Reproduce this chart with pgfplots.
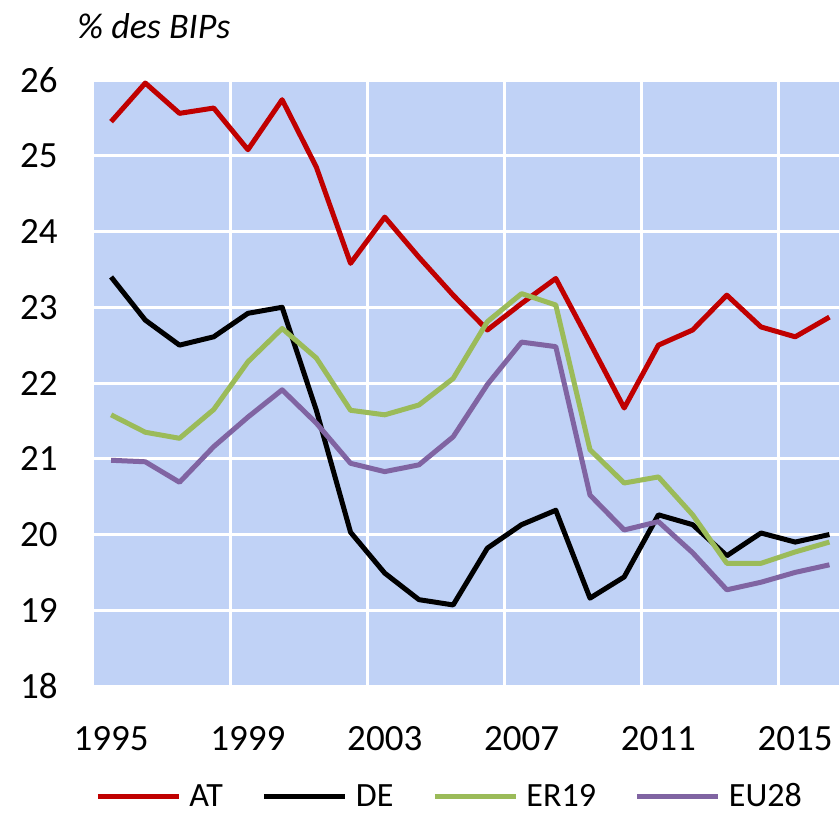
\documentclass[border=0pt]{standalone}
\usepackage{pgfplots}
\pgfplotsset{compat=1.18}
\usepackage{fontspec}
\setmainfont{Carlito}
\definecolor{bgblue}{RGB}{192,210,246}
\definecolor{atred}{RGB}{192,0,0}
\definecolor{ergreen}{RGB}{155,187,89}
\definecolor{eupurple}{RGB}{128,100,162}
\begin{document}
\begin{tikzpicture}
\begin{axis}[
  at={(0,0)}, anchor=south west,
  scale only axis, width=372.5pt, height=303pt,
  xmin=1994.5, xmax=2016.28, ymin=18, ymax=26,
  xtick={1995,1999,2003,2007,2011,2015},
  minor xtick={1998.5,2002.5,2006.5,2010.5,2014.5},
  ytick={18,19,20,21,22,23,24,25,26},
  xminorgrids=true, ymajorgrids=true, xmajorgrids=false,
  grid style={white, line width=1.5pt},
  minor grid style={white, line width=1.5pt},
  major tick length=0pt, minor tick length=0pt,
  axis line style={draw=none},
  axis background/.style={fill=bgblue},
  /pgf/number format/assume math mode=true,
  /pgf/number format/1000 sep={},
  tick label style={font=\fontsize{18.5}{20}\selectfont},
  yticklabel style={anchor=east, inner sep=0pt, xshift=-18pt},
  xticklabel style={anchor=north, inner sep=0pt, yshift=-20pt},
  legend columns=4,
  legend style={at={(0.476,-0.1826)}, anchor=center, draw=none, fill=none,
    font=\fontsize{17}{18}\selectfont,
    nodes={inner sep=0pt},
    /tikz/every odd column/.append style={column sep=4pt},
    /tikz/every even column/.append style={column sep=19.5pt}},
  legend image code/.code={\draw[#1] (0pt,0pt) -- (40.5pt,0pt);},
  every axis plot/.append style={line width=2.5pt, line join=round},
]
\addplot[atred] coordinates {
(1995,25.45) (1996,25.96) (1997,25.56) (1998,25.63) (1999,25.08) (2000,25.74)
(2001,24.85) (2002,23.58) (2003,24.19) (2004,23.66) (2005,23.16) (2006,22.70)
(2007,23.05) (2008,23.38) (2009,22.53) (2010,21.67) (2011,22.50) (2012,22.70)
(2013,23.16) (2014,22.74) (2015,22.61) (2016,22.87)};
\addlegendentry{AT}
\addplot[black] coordinates {
(1995,23.40) (1996,22.83) (1997,22.50) (1998,22.61) (1999,22.92) (2000,23.00)
(2001,21.64) (2002,20.03) (2003,19.49) (2004,19.14) (2005,19.07) (2006,19.82)
(2007,20.13) (2008,20.32) (2009,19.16) (2010,19.44) (2011,20.26) (2012,20.13)
(2013,19.72) (2014,20.02) (2015,19.90) (2016,20.00)};
\addlegendentry{DE}
\addplot[ergreen] coordinates {
(1995,21.58) (1996,21.35) (1997,21.27) (1998,21.65) (1999,22.28) (2000,22.72)
(2001,22.33) (2002,21.64) (2003,21.58) (2004,21.71) (2005,22.06) (2006,22.81)
(2007,23.18) (2008,23.03) (2009,21.12) (2010,20.68) (2011,20.76) (2012,20.26)
(2013,19.62) (2014,19.62) (2015,19.77) (2016,19.90)};
\addlegendentry{ER19}
\addplot[eupurple] coordinates {
(1995,20.98) (1996,20.96) (1997,20.69) (1998,21.16) (1999,21.55) (2000,21.91)
(2001,21.47) (2002,20.94) (2003,20.83) (2004,20.92) (2005,21.29) (2006,21.98)
(2007,22.54) (2008,22.48) (2009,20.52) (2010,20.06) (2011,20.17) (2012,19.76)
(2013,19.27) (2014,19.37) (2015,19.50) (2016,19.60)};
\addlegendentry{EU28}
\end{axis}
\node[anchor=base west, inner sep=0pt, font=\fontsize{18}{19}\selectfont\itshape] at (-8.5pt,323.5pt) {\% des BIPs};
\pgfresetboundingbox
\path (-47pt,-64.5pt) rectangle (372.5pt,343pt);
\end{tikzpicture}
\end{document}
